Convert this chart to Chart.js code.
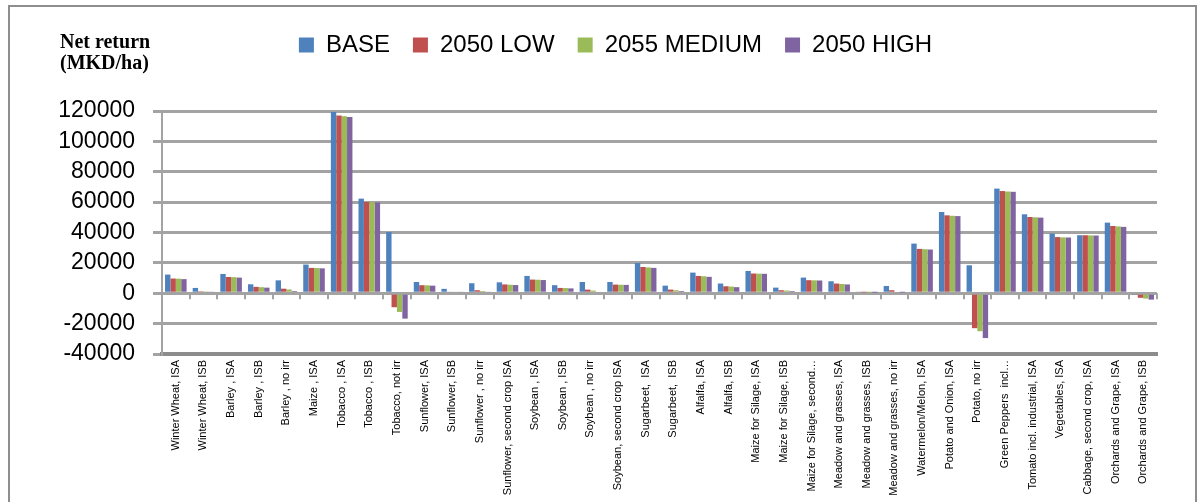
<!DOCTYPE html>
<html>
<head>
<meta charset="utf-8">
<script src="https://cdn.jsdelivr.net/npm/chart.js@4"></script>
<style>
  html, body { margin: 0; padding: 0; background: #fff; }
  #wrap { position: relative; width: 1204px; height: 502px; overflow: hidden; }
  #frame { position: absolute; left: 8px; top: 5px; width: 1189px; height: 530px; border: 2px solid #8e8e8e; box-sizing: border-box; }
  canvas { position: absolute; left: 0; top: 0; }
</style>
</head>
<body>
<div id="wrap">
  <div id="frame"></div>
  <canvas id="chart" width="1204" height="502"></canvas>
</div>
<script>
// crops / irrigation regimes
var crops = [
  "Winter Wheat, ISA", "Winter Wheat, ISB", "Barley , ISA", "Barley , ISB", "Barley , no irr",
  "Maize , ISA", "Tobacco , ISA", "Tobacco , ISB", "Tobacco, not irr", "Sunflower, ISA",
  "Sunflower, ISB", "Sunflower , no irr", "Sunflower, second crop ISA", "Soybean , ISA", "Soybean , ISB",
  "Soybean , no irr", "Soybean, second crop ISA", "Sugarbeet,  ISA", "Sugarbeet,  ISB", "Alfalfa, ISA",
  "Alfalfa, ISB", "Maize for Silage, ISA", "Maize for Silage, ISB", "Maize for Silage, second…", "Meadow and grasses, ISA",
  "Meadow and grasses, ISB", "Meadow and grasses, no irr", "Watermelon/Melon, ISA", "Potato and Onion, ISA", "Potato, no irr",
  "Green Peppers  incl…", "Tomato incl. industrial, ISA", "Vegetables, ISA", "Cabbage, second crop, ISA", "Orchards and Grape, ISA",
  "Orchards and Grape, ISB"
];

var base = [12300, 3500, 12700, 5900, 8500, 18900, 119300, 62300, 40300, 7400,
  2900, 6600, 7200, 11400, 5300, 7400, 7400, 19900, 5000, 13600,
  6400, 14700, 3700, 10300, 7900, 1100, 4800, 32700, 53500, 18400,
  68900, 52000, 39300, 38200, 46500, -800];
var low2050 = [9700, 1300, 10700, 4200, 3000, 16700, 117000, 60100, -9200, 5300,
  900, 2000, 5800, 9000, 3500, 2400, 5700, 17300, 2400, 11400,
  4600, 13000, 2000, 8600, 6400, 600, 2000, 29200, 51300, -23000,
  67300, 50200, 37000, 38200, 44300, -3000];
var medium2055 = [9600, 1200, 10600, 4000, 2500, 16600, 116500, 60000, -12300, 5200,
  900, 1500, 5600, 8900, 3400, 1800, 5600, 17000, 2000, 11200,
  4400, 12900, 1800, 8500, 6100, 500, 1000, 29000, 51000, -25000,
  67000, 50000, 36800, 38100, 44000, -3500];
var high2050 = [9300, 1100, 10300, 3700, 1500, 16400, 116000, 59800, -16700, 5000,
  900, 900, 5400, 8700, 3200, 1000, 5500, 16700, 1500, 10800,
  4000, 12800, 1500, 8400, 5800, 400, 500, 28800, 50800, -29500,
  66800, 49800, 36700, 38000, 43700, -4200];

var seriesNames = ["BASE", "2050 LOW", "2055 MEDIUM", "2050 HIGH"];
var seriesColors = ["#4f81bd", "#c0504d", "#9bbb59", "#8064a2"];
var yMin = -40000, yMax = 120000, yStep = 20000;

// axis caption in the top left corner
var captionPlugin = {
  id: "caption",
  afterDraw: function(chart) {
    var c = chart.ctx;
    c.save();
    c.fillStyle = "#000";
    c.font = "bold 20px 'Liberation Serif'";
    c.textAlign = "left";
    c.textBaseline = "alphabetic";
    c.fillText("Net return", 60, 48);
    c.fillText("(MKD/ha)", 60, 69);
    c.restore();
  }
};

// extra room under the legend, legend nudged right
var legendSpacing = {
  id: "legendSpacing",
  afterInit: function(chart) {
    var fit = chart.legend.fit;
    chart.legend.fit = function() {
      fit.call(this);
      this.height += 44;
    };
  },
  afterLayout: function(chart) {
    chart.legend.left += 19;
  }
};

// small category ticks hanging under the zero line
var zeroTicks = {
  id: "zeroTicks",
  beforeDatasetsDraw: function(chart) {
    var x = chart.scales.x, y = chart.scales.y;
    var y0 = y.getPixelForValue(0);
    var w = (x.right - x.left) / crops.length;
    var c = chart.ctx;
    c.save();
    c.strokeStyle = "#a3a3a3";
    c.lineWidth = 2;
    c.beginPath();
    for (var i = 0; i <= crops.length; i++) {
      var px = Math.round(x.left + i * w);
      c.moveTo(px, y0);
      c.lineTo(px, y0 + 6);
    }
    c.stroke();
    c.restore();
  }
};

var data = [base, low2050, medium2055, high2050];

new Chart(document.getElementById("chart"), {
  type: "bar",
  data: {
    labels: crops,
    datasets: seriesNames.map(function(name, i) {
      return {
        label: name,
        data: data[i],
        backgroundColor: seriesColors[i],
        borderWidth: 0,
        barPercentage: 1.0,
        categoryPercentage: 0.78
      };
    })
  },
  options: {
    responsive: false,
    animation: false,
    layout: { padding: { left: 55, right: 47, top: 10, bottom: 0 } },
    plugins: {
      tooltip: { enabled: false },
      legend: {
        position: "top",
        labels: {
          color: "#000",
          font: { family: "'Liberation Sans'", size: 24 },
          boxWidth: 15,
          boxHeight: 15,
          padding: 23
        }
      }
    },
    scales: {
      x: {
        grid: { display: false, drawTicks: false },
        border: { display: true, color: "#8c8c8c", width: 4 },
        ticks: {
          color: "#000",
          font: { family: "'Liberation Sans'", size: 11 },
          minRotation: 90,
          maxRotation: 90,
          autoSkip: false,
          padding: 6
        },
        afterFit: function(scale) { scale.height = 148; }
      },
      y: {
        min: yMin,
        max: yMax,
        grid: { color: "#a3a3a3", lineWidth: 3, tickLength: 9 },
        border: { display: true, color: "#a3a3a3", width: 2 },
        ticks: {
          stepSize: yStep,
          autoSkip: false,
          color: "#000",
          font: { family: "'Liberation Sans'", size: 23 },
          padding: 18,
          callback: function(v) { return String(v); }
        },
        afterFit: function(scale) { scale.width = 107; }
      }
    }
  },
  plugins: [legendSpacing, zeroTicks, captionPlugin]
});
</script>
</body>
</html>
